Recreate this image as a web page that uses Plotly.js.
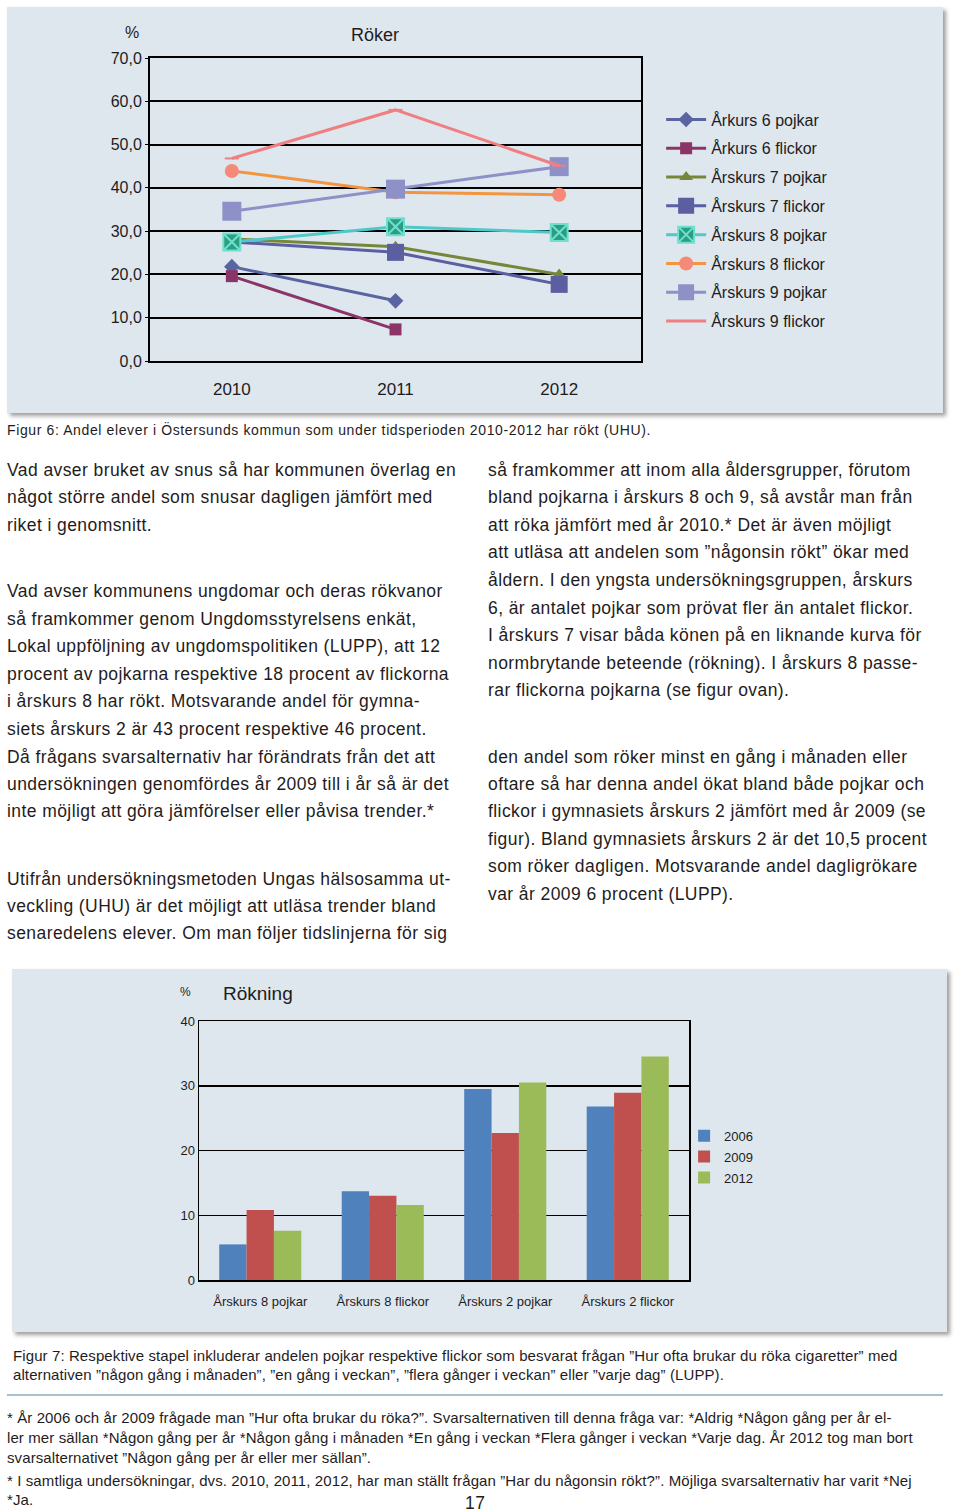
<!DOCTYPE html>
<html><head><meta charset="utf-8">
<script src="https://cdn.plot.ly/plotly-3.0.1.min.js"></script>
<style>
html,body{margin:0;padding:0;background:#fff;}
body{width:960px;height:1512px;position:relative;overflow:hidden;font-family:"Liberation Sans",Arial,sans-serif;color:#1f1c1d;}
.panel{position:absolute;background:#dee7ee;box-shadow:3px 3px 4px rgba(0,0,0,0.38);}
.ln{position:absolute;white-space:nowrap;}
.body{font-size:17.5px;letter-spacing:0.42px;line-height:20px;}
.cap{font-size:14px;letter-spacing:0.62px;line-height:16px;}
.foot{font-size:15px;letter-spacing:0.1px;line-height:16px;}
</style></head><body>
<div class="panel" id="p1" style="left:7px;top:7px;width:936px;height:406px;"></div>
<div id="chart1" style="position:absolute;left:7px;top:7px;width:936px;height:406px;"></div>
<div class="panel" id="p2" style="left:12px;top:969px;width:935px;height:363px;"></div>
<div id="chart2" style="position:absolute;left:12px;top:969px;width:935px;height:363px;"></div>
<div style="position:absolute;left:7px;top:1394px;width:936px;height:2px;background:#aabfce;"></div>
<div id="txt"></div>
<script>
// ---------- Chart 1 data: Röker ----------
const years = ["2010", "2011", "2012"];
const seriesNames = ["Årkurs 6 pojkar","Årkurs 6 flickor","Årskurs 7 pojkar","Årskurs 7 flickor","Årskurs 8 pojkar","Årskurs 8 flickor","Årskurs 9 pojkar","Årskurs 9 flickor"];
const ak6Pojkar  = [21.8, 13.9, null];
const ak6Flickor = [19.6, 7.3, null];
const ak7Pojkar  = [28.2, 26.4, 20.0];
const ak7Flickor = [27.5, 25.1, 17.7];
const ak8Pojkar  = [27.5, 31.0, 29.7];
const ak8Flickor = [43.9, 39.0, 38.4];
const ak9Pojkar  = [34.6, 39.7, 44.9];
const ak9Flickor = [46.8, 58.0, 45.1];
const yTicks1 = [0,10,20,30,40,50,60,70];

// ---------- Chart 2 data: Rökning ----------
const groups = ["Årskurs 8 pojkar","Årskurs 8 flickor","Årskurs 2 pojkar","Årskurs 2 flickor"];
const barYears = ["2006","2009","2012"];
const v2006 = [5.5, 13.7, 29.5, 26.8];
const v2009 = [10.8, 13.0, 22.7, 28.9];
const v2012 = [7.6, 11.6, 30.5, 34.5];
const yTicks2 = [0,10,20,30,40];

const F = '"Liberation Sans", Arial, sans-serif';

const styles = [
  {line:'#5a64a0', mk:'#5a64a0', sym:'diamond', size:12},
  {line:'#8b3468', mk:'#8b3468', sym:'square', size:12},
  {line:'#77873a', mk:'#77873a', sym:'triangle-up', size:12},
  {line:'#5b5ea0', mk:'#5b5ea0', sym:'square', size:17},
  {line:'#4fc8c8', mk:'#2a9e80', sym:'square-x', size:17, mkline:'#6fe0d0'},
  {line:'#f39540', mk:'#f58a78', sym:'circle', size:14},
  {line:'#8e91c8', mk:'#8e91c8', sym:'square', size:19},
  {line:'#ef7f80', mk:'#ef7f80', sym:'line-ew', size:10, mkline:'#ef7f80'}
];
const vals = [ak6Pojkar, ak6Flickor, ak7Pojkar, ak7Flickor, ak8Pojkar, ak8Flickor, ak9Pojkar, ak9Flickor];

const traces1 = vals.map((v,i)=>({
  type:'scatter', mode:'lines+markers', x:years, y:v, name:seriesNames[i],
  legendgroup:'g'+i, connectgaps:false,
  line:{color:styles[i].line, width:3},
  marker:{symbol:styles[i].sym, size:styles[i].size, color:styles[i].mk,
    line:{color:styles[i].mkline||styles[i].mk, width:styles[i].mkline?2:0}}
}));

const layout1 = {
  width:936, height:406, separators:',.',
  paper_bgcolor:'rgba(0,0,0,0)', plot_bgcolor:'rgba(0,0,0,0)',
  margin:{l:143, r:302, t:51, b:52},
  font:{family:F, size:16, color:'#1f1c1d'},
  showlegend:true,
  legend:{x:1.041, y:0.853, xanchor:'left', yanchor:'top', font:{size:16, color:'#1f1c1d'},
    bgcolor:'rgba(0,0,0,0)', tracegroupgap:5, itemwidth:40, traceorder:'grouped'},
  xaxis:{type:'category', range:[-0.5,2.5], showgrid:false, showline:true, linecolor:'#000', linewidth:2, mirror:true,
    ticks:'', tickfont:{size:17}, ticklabelstandoff:12, fixedrange:true},
  yaxis:{range:[0,70], tickvals:yTicks1, tickformat:'.1f', showgrid:true, gridcolor:'#000', gridwidth:2,
    showline:true, linecolor:'#000', linewidth:2, mirror:true, ticks:'outside', ticklen:3, tickcolor:'#000',
    tickfont:{size:16}, zeroline:false, fixedrange:true},
  annotations:[
    {text:'Röker', xref:'paper', yref:'paper', x:(368-143)/491, y:1+(51-28)/303, xanchor:'center', yanchor:'middle', showarrow:false, font:{size:18}},
    {text:'%', xref:'paper', yref:'paper', x:(125-143)/491, y:1+(51-25)/303, xanchor:'center', yanchor:'middle', showarrow:false, font:{size:16}}
  ]
};

Plotly.newPlot('chart1', traces1, layout1, {staticPlot:true, displayModeBar:false});

const barCols = ['#4f81bd','#c0504d','#9bbb59'];
const barVals = [v2006, v2009, v2012];
const traces2 = barVals.map((v,i)=>({
  type:'bar', x:groups, y:v, name:barYears[i], marker:{color:barCols[i]}, legendgroup:'b'+i
}));
const layout2 = {
  width:935, height:363,
  paper_bgcolor:'rgba(0,0,0,0)', plot_bgcolor:'rgba(0,0,0,0)',
  margin:{l:187, r:258, t:52, b:52},
  font:{family:F, size:13, color:'#1f1c1d'},
  barmode:'group', bargap:0.33, bargroupgap:0,
  showlegend:true,
  legend:{x:0.99, y:0.615, xanchor:'left', yanchor:'top', font:{size:13}, bgcolor:'rgba(0,0,0,0)',
    itemwidth:30, traceorder:'grouped', tracegroupgap:1},
  xaxis:{type:'category', showgrid:false, showline:true, linecolor:'#000', linewidth:1.5, mirror:true, ticks:'', tickfont:{size:13}, ticklabelstandoff:9, fixedrange:true},
  yaxis:{range:[0,40], tickvals:yTicks2, showgrid:true, gridcolor:'#000', gridwidth:1.5, showline:true, linecolor:'#000', linewidth:1.5, mirror:true,
    ticks:'', tickfont:{size:13}, zeroline:false, fixedrange:true},
  annotations:[
    {text:'Rökning', xref:'paper', yref:'paper', x:(209-187)/490, y:1+(52-25)/259, xanchor:'left', yanchor:'middle', showarrow:false, font:{size:19}},
    {text:'%', xref:'paper', yref:'paper', x:(173-187)/490, y:1+(52-23)/259, xanchor:'center', yanchor:'middle', showarrow:false, font:{size:12}}
  ]
};
Plotly.newPlot('chart2', traces2, layout2, {staticPlot:true, displayModeBar:false});

// ---------- Text ----------
const leftLines = [
 [470,"Vad avser bruket av snus så har kommunen överlag en"],
 [497,"något större andel som snusar dagligen jämfört med"],
 [525,"riket i genomsnitt."],
 [591,"Vad avser kommunens ungdomar och deras rökvanor"],
 [619,"så framkommer genom Ungdomsstyrelsens enkät,"],
 [646,"Lokal uppföljning av ungdomspolitiken (LUPP), att 12"],
 [674,"procent av pojkarna respektive 18 procent av flickorna"],
 [701,"i årskurs 8 har rökt. Motsvarande andel för gymna-"],
 [729,"siets årskurs 2 är 43 procent respektive 46 procent."],
 [757,"Då frågans svarsalternativ har förändrats från det att"],
 [784,"undersökningen genomfördes år 2009 till i år så är det"],
 [811,"inte möjligt att göra jämförelser eller påvisa trender.*"],
 [879,"Utifrån undersökningsmetoden Ungas hälsosamma ut-"],
 [906,"veckling (UHU) är det möjligt att utläsa trender bland"],
 [933,"senaredelens elever. Om man följer tidslinjerna för sig"]
];
const rightLines = [
 [470,"så framkommer att inom alla åldersgrupper, förutom"],
 [497,"bland pojkarna i årskurs 8 och 9, så avstår man från"],
 [525,"att röka jämfört med år 2010.* Det är även möjligt"],
 [552,"att utläsa att andelen som ”någonsin rökt” ökar med"],
 [580,"åldern. I den yngsta undersökningsgruppen, årskurs"],
 [608,"6, är antalet pojkar som prövat fler än antalet flickor."],
 [635,"I årskurs 7 visar båda könen på en liknande kurva för"],
 [663,"normbrytande beteende (rökning). I årskurs 8 passe-"],
 [690,"rar flickorna pojkarna (se figur ovan)."],
 [757,"den andel som röker minst en gång i månaden eller"],
 [784,"oftare så har denna andel ökat bland både pojkar och"],
 [811,"flickor i gymnasiets årskurs 2 jämfört med år 2009 (se"],
 [839,"figur). Bland gymnasiets årskurs 2 är det 10,5 procent"],
 [866,"som röker dagligen. Motsvarande andel dagligrökare"],
 [894,"var år 2009 6 procent (LUPP)."]
];
const capLines = [
 [7,430,"Figur 6: Andel elever i Östersunds kommun som under tidsperioden 2010-2012 har rökt (UHU).","cap"],
 [13,1356,"Figur 7: Respektive stapel inkluderar andelen pojkar respektive flickor som besvarat frågan ”Hur ofta brukar du röka cigaretter” med","foot"],
 [13,1375,"alternativen ”någon gång i månaden”, ”en gång i veckan”, ”flera gånger i veckan” eller ”varje dag” (LUPP).","foot"],
 [7,1418,"* År 2006 och år 2009 frågade man ”Hur ofta brukar du röka?”. Svarsalternativen till denna fråga var: *Aldrig *Någon gång per år el-","foot"],
 [7,1438,"ler mer sällan *Någon gång per år *Någon gång i månaden *En gång i veckan *Flera gånger i veckan *Varje dag. År 2012 tog man bort","foot"],
 [7,1458,"svarsalternativet ”Någon gång per år eller mer sällan”.","foot"],
 [7,1481,"* I samtliga undersökningar, dvs. 2010, 2011, 2012, har man ställt frågan ”Har du någonsin rökt?”. Möjliga svarsalternativ har varit *Nej","foot"],
 [7,1500,"*Ja.","foot"]
];
const txt = document.getElementById('txt');
function add(x,y,t,cls){
  const d=document.createElement('div'); d.className='ln '+cls; d.textContent=t;
  d.style.left=x+'px'; d.style.top=(y-(cls==='body'?10:8))+'px'; txt.appendChild(d);
}
leftLines.forEach(l=>add(7,l[0],l[1],'body'));
rightLines.forEach(l=>add(488,l[0],l[1],'body'));
capLines.forEach(l=>add(l[0],l[1],l[2],l[3]));
add(465,1503,"17","body");
</script>
</body></html>
